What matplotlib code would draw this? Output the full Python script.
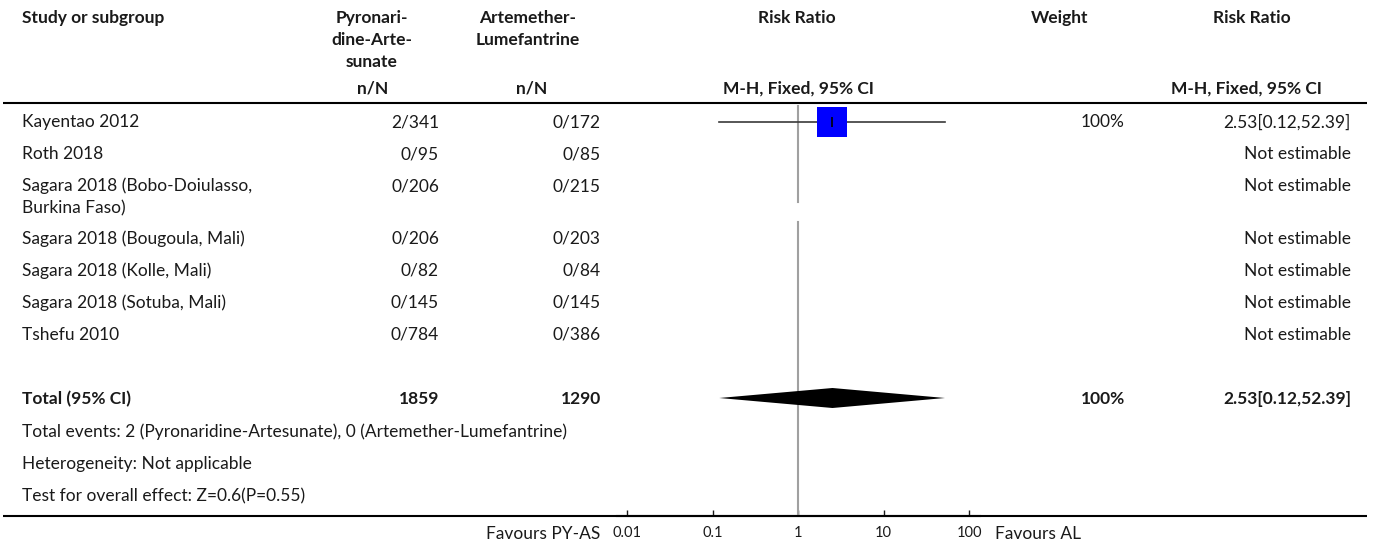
import matplotlib
matplotlib.use("Agg")
import matplotlib.pyplot as plt
import numpy as np

plt.rcParams['font.family'] = ['Lato', 'DejaVu Sans']

# ---------------- data ----------------
studies = ["Kayentao 2012", "Roth 2018", "Sagara 2018 (Bobo-Doiulasso,\nBurkina Faso)",
           "Sagara 2018 (Bougoula, Mali)", "Sagara 2018 (Kolle, Mali)",
           "Sagara 2018 (Sotuba, Mali)", "Tshefu 2010"]
pyas_nN = ["2/341", "0/95", "0/206", "0/206", "0/82", "0/145", "0/784"]
al_nN = ["0/172", "0/85", "0/215", "0/203", "0/84", "0/145", "0/386"]
weights = ["100%", "", "", "", "", "", ""]
rr_text = ["2.53[0.12,52.39]", "Not estimable", "Not estimable", "Not estimable",
           "Not estimable", "Not estimable", "Not estimable"]
rr_est = [2.53, None, None, None, None, None, None]
rr_lo = [0.12, None, None, None, None, None, None]
rr_hi = [52.39, None, None, None, None, None, None]

total_label = "Total (95% CI)"
total_pyas = "1859"
total_al = "1290"
total_weight = "100%"
total_rr_text = "2.53[0.12,52.39]"
total_est, total_lo, total_hi = 2.53, 0.12, 52.39

footnotes = ["Total events: 2 (Pyronaridine-Artesunate), 0 (Artemether-Lumefantrine)",
             "Heterogeneity: Not applicable",
             "Test for overall effect: Z=0.6(P=0.55)"]

axis_ticks = [0.01, 0.1, 1, 10, 100]
axis_ticklabels = ["0.01", "0.1", "1", "10", "100"]
favours_left = "Favours PY-AS"
favours_right = "Favours AL"

# ---------------- layout ----------------
W, H = 1375, 546
fig = plt.figure(figsize=(W / 100, H / 100), dpi=100)
ax = fig.add_axes([0, 0, 1, 1])
ax.set_xlim(0, W)
ax.set_ylim(H, 0)
ax.axis('off')

FS = 12.5
TXT = '#1a1a1a'
X_NAME, X_PY, X_AL, X_W, X_RR = 22, 439, 601, 1125, 1351
STEP = 22

def lines(x, y0, label, ha='center', step=STEP, fs=FS, **kw):
    for i, ln in enumerate(label.split('\n')):
        ax.text(x, y0 + i * step, ln, ha=ha, va='center', fontsize=fs, color=TXT, **kw)

# headers
HY = 18
lines(X_NAME, HY, "Study or subgroup", ha='left', fontweight='bold')
lines(372, HY, "Pyronari-\ndine-Arte-\nsunate", fontweight='bold')
lines(528, HY, "Artemether-\nLumefantrine", fontweight='bold')
lines(797, HY, "Risk Ratio", fontweight='bold')
lines(1060, HY, "Weight", fontweight='bold')
lines(1252, HY, "Risk Ratio", fontweight='bold')
lines(373, 89, "n/N", fontweight='bold')
lines(532, 89, "n/N", fontweight='bold')
lines(798, 89, "M-H, Fixed, 95% CI", fontweight='bold')
lines(1246, 89, "M-H, Fixed, 95% CI", fontweight='bold')

ax.plot([3, 1367], [103, 103], color='black', lw=1.5, solid_capstyle='butt')
ax.plot([3, 1367], [516, 516], color='black', lw=1.5, solid_capstyle='butt')

# study rows
row_y = []
y = 122
for i, s in enumerate(studies):
    row_y.append(y)
    lines(X_NAME, y, s, ha='left')
    lines(X_PY, y, pyas_nN[i], ha='right')
    lines(X_AL, y, al_nN[i], ha='right')
    if weights[i]:
        lines(X_W, y, weights[i], ha='right')
    lines(X_RR, y, rr_text[i], ha='right')
    y += 32 + 21 * s.count('\n')

total_y = 399
lines(X_NAME, total_y, total_label, ha='left', fontweight='bold')
lines(X_PY, total_y, total_pyas, ha='right', fontweight='bold')
lines(X_AL, total_y, total_al, ha='right', fontweight='bold')
lines(X_W, total_y, total_weight, ha='right', fontweight='bold')
lines(X_RR, total_y, total_rr_text, ha='right', fontweight='bold')

for j, f in enumerate(footnotes):
    lines(X_NAME, 432 + 32 * j, f, ha='left')

# ---------------- forest axes ----------------
x0px, x1px = 617, 980
y0px, y1px = 100, 516
fax = fig.add_axes([x0px / W, (H - y1px) / H, (x1px - x0px) / W, (y1px - y0px) / H])
fax.patch.set_alpha(0)
fax.set_xscale('log')
dec = 85.5  # px per decade
fax.set_xlim(10 ** (-2 - (627 - x0px) / dec), 10 ** (2 + (x1px - 969) / dec))
fax.set_ylim(y1px, y0px)
for sp in ['left', 'right', 'top']:
    fax.spines[sp].set_visible(False)
fax.spines['bottom'].set_linewidth(1.5)
fax.set_yticks([])
fax.set_xticks(axis_ticks)
fax.set_xticklabels(axis_ticklabels)
fax.minorticks_off()
fax.tick_params(axis='x', direction='in', length=4, width=1, pad=7, labelsize=10.5, colors=TXT)

# reference line (two segments as in original)
fax.plot([1, 1], [106, 202], color='#a0a0a0', lw=1.5)
fax.plot([1, 1], [222, 516], color='#a0a0a0', lw=1.5)

for i in range(len(studies)):
    if rr_est[i] is None:
        continue
    yy = row_y[i]
    fax.plot([rr_lo[i], rr_hi[i]], [yy, yy], color='#3a3a3a', lw=1.2, zorder=2)
    fax.plot([rr_est[i]], [yy], marker='s', markersize=22.3, color='#0000ff',
             markeredgewidth=0, zorder=3)
    fax.plot([rr_est[i]], [yy], marker='|', markersize=7, color='black',
             markeredgewidth=1.2, zorder=4)

fax.fill([total_lo, total_est, total_hi, total_est],
         [total_y - 1, total_y - 11, total_y - 1, total_y + 9],
         color='black', lw=0, zorder=3)

ax.text(600, 534, favours_left, ha='right', va='center', fontsize=FS, color=TXT)
ax.text(995, 534, favours_right, ha='left', va='center', fontsize=FS, color=TXT)

fig.savefig("out.png", dpi=100)
